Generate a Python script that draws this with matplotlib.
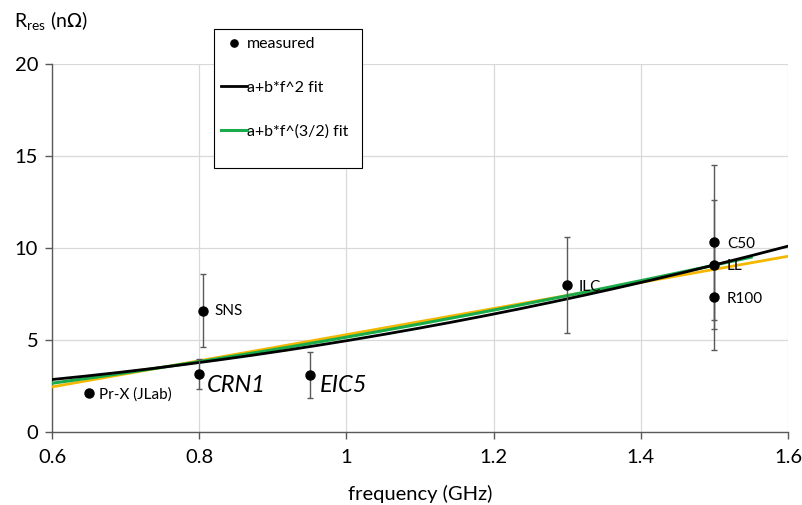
#!/usr/bin/env python3
"""Residual resistance vs. frequency for several cavities, with power-law fits."""

import matplotlib
matplotlib.use("Agg")
import matplotlib.pyplot as plt
from matplotlib.patches import Rectangle
import numpy as np

plt.rcParams["font.family"] = ["Lato", "DejaVu Sans"]

# measured points (GHz, nOhm)
labels = ["Pr-X (JLab)", "SNS", "CRN1", "EIC5", "ILC", "C50", "LL", "R100"]
freq = [0.65, 0.805, 0.80, 0.95, 1.30, 1.50, 1.50, 1.50]
r_res = [2.1, 6.6, 3.15, 3.1, 8.0, 10.3, 9.1, 7.35]
r_err = [0.0, 2.0, 0.8, 1.25, 2.6, 4.2, 3.5, 2.9]

# fit coefficients R = a + b * f^n
fit_sq = (1.664, 3.295)       # n = 2
fit_32 = (0.477, 4.676)       # n = 3/2
fit_lin = (-1.81, 7.10)       # n = 1
fit_sq_range = (0.6, 1.6)
fit_32_range = (0.6, 1.55)
fit_lin_range = (0.6, 1.6)

BLACK = "#000000"
GREEN = "#1aab4b"
ORANGE = "#f5b800"
AXIS_GRAY = "#595959"
GRID_GRAY = "#d9d9d9"


def fit_curve(coef, power, f_range):
    f = np.linspace(f_range[0], f_range[1], 200)
    return f, coef[0] + coef[1] * f ** power


fig = plt.figure(figsize=(8.03, 5.05), dpi=100)
ax = fig.add_axes([0.0648, 0.1446, 0.9165, 0.7287])

f, r = fit_curve(fit_lin, 1.0, fit_lin_range)
ax.plot(f, r, color=ORANGE, lw=2.0, zorder=3)
f, r = fit_curve(fit_32, 1.5, fit_32_range)
ax.plot(f, r, color=GREEN, lw=2.2, zorder=4, label="a+b*f^(3/2) fit")
f, r = fit_curve(fit_sq, 2.0, fit_sq_range)
ax.plot(f, r, color=BLACK, lw=2.0, zorder=4, label="a+b*f^2 fit")

# error bars (Pr-X has none)
for x, y, e in zip(freq, r_res, r_err):
    if e > 0:
        ax.errorbar(x, y, yerr=e, fmt="none", ecolor="#595959", elinewidth=1.0,
                    capsize=2.3, capthick=1.0, zorder=5)
ax.plot(freq, r_res, "o", color=BLACK, ms=6.5, zorder=6, label="measured")

small = dict(fontsize=11, va="center", ha="left", zorder=7)
big = dict(fontsize=17, style="italic", va="center", ha="left", zorder=7)
ax.text(0.664, 2.05, labels[0], **small)
ax.text(0.821, 6.55, labels[1], **small)
ax.text(0.811, 2.5, labels[2], **big)
ax.text(0.964, 2.5, labels[3], **big)
ax.text(1.316, 7.9, labels[4], **small)
ax.text(1.517, 10.2, labels[5], **small)
ax.text(1.517, 9.0, labels[6], **small)
ax.text(1.517, 7.2, labels[7], **small)

ax.set_xlim(0.6, 1.6)
ax.set_ylim(0, 20)
ax.set_xticks([0.6, 0.8, 1.0, 1.2, 1.4, 1.6])
ax.set_xticklabels(["0.6", "0.8", "1", "1.2", "1.4", "1.6"])
ax.set_yticks([0, 5, 10, 15, 20])
ax.grid(True, color=GRID_GRAY, lw=0.9)
ax.set_axisbelow(True)
for side in ("top", "right"):
    ax.spines[side].set_visible(False)
for side in ("left", "bottom"):
    ax.spines[side].set_color(AXIS_GRAY)
    ax.spines[side].set_linewidth(1.0)
ax.tick_params(axis="both", direction="out", length=5, color=AXIS_GRAY,
               labelsize=14.5, width=1.0)
ax.tick_params(axis="x", pad=7)
ax.tick_params(axis="y", pad=5)

ax.set_xlabel("frequency (GHz)", fontsize=14.5, labelpad=14)
fig.text(0.017, 0.958, r"R$_{\mathregular{res}}$ (n$\Omega$)", fontsize=14,
         ha="left", va="center")

# legend: white box drawn separately, entries placed frameless on top
box = Rectangle((214 / 803, 1 - 168 / 505), 148 / 803, 139 / 505,
                transform=fig.transFigure, facecolor="white",
                edgecolor="#000000", lw=0.8, zorder=9, clip_on=False)
ax.add_patch(box)

handles, hlabels = ax.get_legend_handles_labels()
order = [hlabels.index("measured"), hlabels.index("a+b*f^2 fit"),
         hlabels.index("a+b*f^(3/2) fit")]
leg = ax.legend([handles[i] for i in order], [hlabels[i] for i in order],
                loc="upper left", bbox_to_anchor=(221 / 803, 1 - 37 / 505),
                bbox_transform=fig.transFigure, fontsize=11.5, frameon=False,
                handlelength=1.6, handletextpad=0.05, labelspacing=1.85,
                borderpad=0.0, borderaxespad=0.0, markerscale=0.8)
leg.set_zorder(10)

fig.savefig("out.png", dpi=100)
